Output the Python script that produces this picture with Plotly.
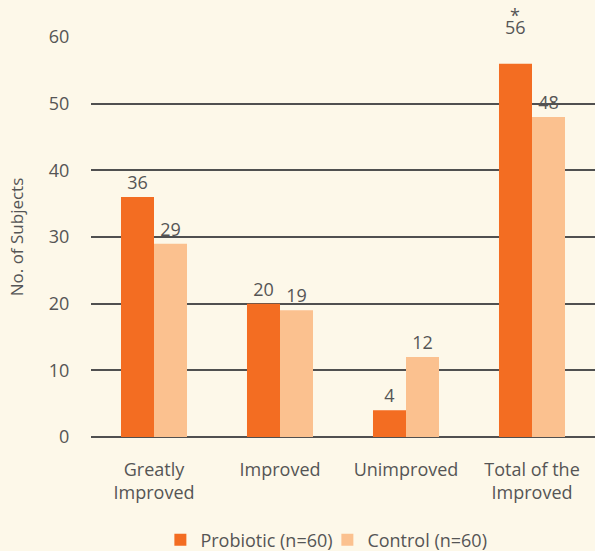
import plotly.graph_objects as go

categories = ["Greatly<br>Improved", "Improved", "Unimproved", "Total of the<br>Improved"]
probiotic = [36, 20, 4, 56]
control = [29, 19, 12, 48]
series_names = ["Probiotic (n=60)", "Control (n=60)"]
y_ticks = [0, 10, 20, 30, 40, 50, 60]
significant_mark = "*"

TXT = "#555555"
BG = "#fdf8e9"
FONT = "Open Sans"
FS = 18

# the significant total is labelled by an annotation (with its asterisk) instead of bar text
prob_text = [str(v) for v in probiotic[:-1]] + [""]

fig = go.Figure()
fig.add_trace(go.Bar(x=categories, y=probiotic, name=series_names[0],
                     marker=dict(color="#f36d22", line=dict(width=0)),
                     text=prob_text, textposition="outside",
                     textfont=dict(size=FS, color=TXT), cliponaxis=False))
fig.add_trace(go.Bar(x=categories, y=control, name=series_names[1],
                     marker=dict(color="#fbc18f", line=dict(width=0)),
                     text=control, textposition="outside",
                     textfont=dict(size=FS, color=TXT), cliponaxis=False))

fig.add_annotation(x=categories[3], y=probiotic[3], xref="x", yref="y",
                   text=str(probiotic[3]), showarrow=False, xshift=-17, yshift=37,
                   yanchor="middle", font=dict(size=FS, color=TXT, family=FONT))
fig.add_annotation(x=categories[3], y=probiotic[3], xref="x", yref="y",
                   text=significant_mark, showarrow=False, xshift=-17, yshift=49,
                   yanchor="middle", font=dict(size=FS, color=TXT, family=FONT))

fig.update_layout(
    width=595, height=551,
    margin=dict(l=91, r=0, t=37, b=114, autoexpand=False),
    paper_bgcolor=BG, plot_bgcolor=BG,
    font=dict(family=FONT, size=FS, color=TXT),
    barmode="group", bargap=0.476, bargroupgap=0,
    showlegend=True,
    legend=dict(orientation="h", x=0.469, xanchor="center", y=-0.2575, yanchor="middle",
                entrywidth=122, entrywidthmode="pixels",
                font=dict(size=FS, color=TXT), bgcolor="rgba(0,0,0,0)", traceorder="normal"),
    xaxis=dict(showgrid=False, showline=False, ticks="outside", ticklen=16,
               tickcolor="rgba(0,0,0,0)", tickfont=dict(size=FS, color=TXT)),
    yaxis=dict(range=[0, 60], tickvals=y_ticks, showgrid=True, gridcolor="#505050", gridwidth=2,
               zeroline=True, zerolinecolor="#505050", zerolinewidth=2,
               showline=False, ticks="outside", ticklen=17, tickcolor="rgba(0,0,0,0)",
               tickfont=dict(size=FS, color=TXT),
               title=dict(text="No. of Subjects", font=dict(size=17, color=TXT), standoff=20)),
)

fig.write_html("out.html", config={"displayModeBar": False},
               post_script="document.body.style.margin='0';document.body.style.background='" + BG + "';")
